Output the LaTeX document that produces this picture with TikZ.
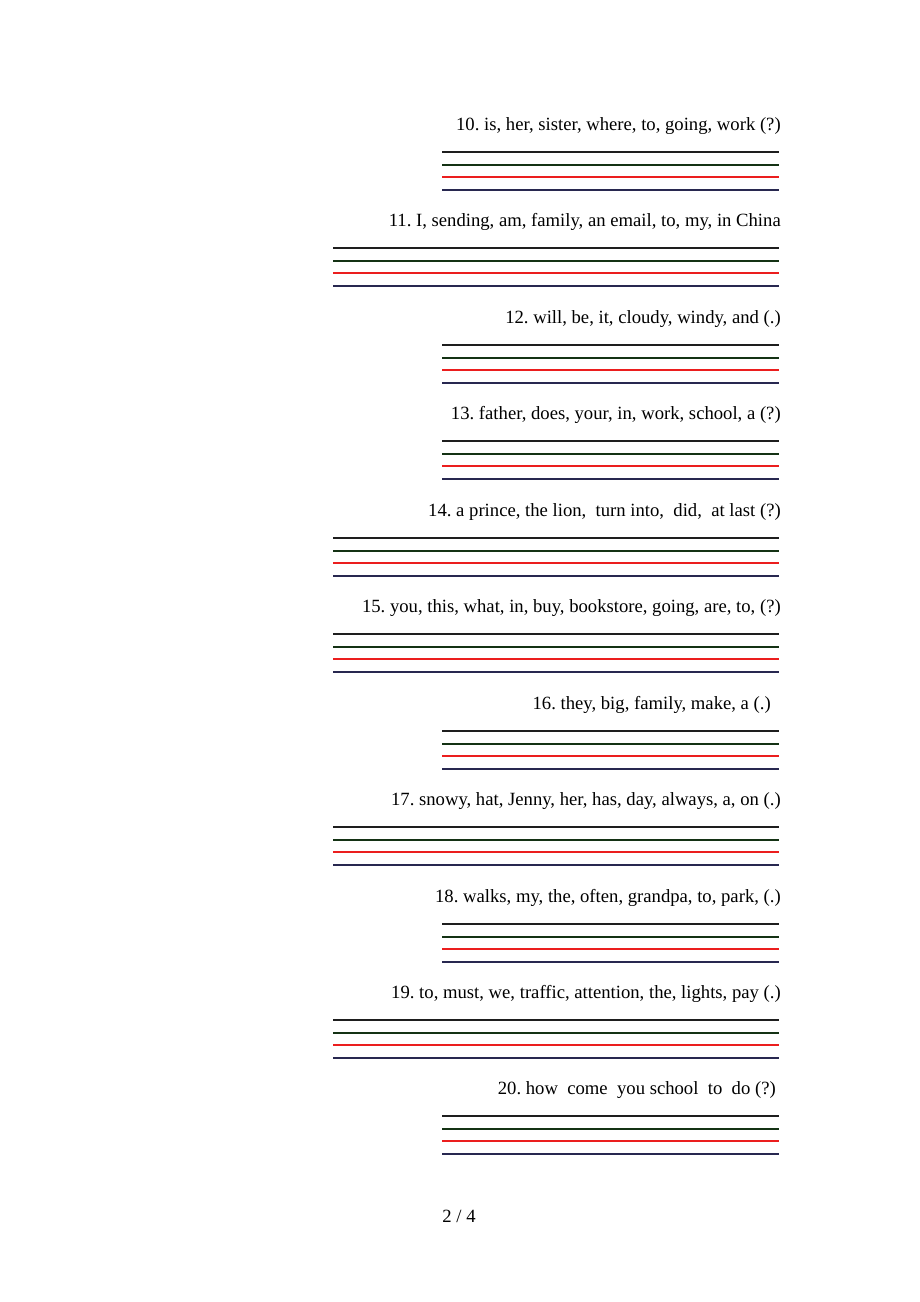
\documentclass[tikz,border=0pt]{standalone}
\usepackage{fontspec}
\setmainfont{Liberation Serif}
\frenchspacing
\definecolor{lineone}{RGB}{30,30,30}
\definecolor{linetwo}{RGB}{20,50,20}
\definecolor{linethree}{RGB}{235,30,30}
\definecolor{linefour}{RGB}{40,40,80}
\begin{document}
\begin{tikzpicture}[x=0.75pt,y=-0.75pt,
  item/.style={anchor=east,inner sep=0pt,font=\fontsize{14}{16}\selectfont},
  rule/.style={line width=0.8pt}]
\useasboundingbox (0,0) rectangle (920,1302);
% questions
\node[item](q10) at (781,126) {10. is, her, sister, where, to, going, work (?)};
\node[item](q11) at (781,222) {11. I, sending, am, family, an email, to, my, in China};
\node[item](q12) at (781,319) {12. will, be, it, cloudy, windy, and (.)};
\node[item](q13) at (781,415) {13. father, does, your, in, work, school, a (?)};
\node[item](q14) at (781,512) {14. a prince, the lion,\ \ turn into,\ \ did,\ \ at last (?)};
\node[item](q15) at (781,608) {15. you, this, what, in, buy, bookstore, going, are, to, (?)};
\node[item](q16) at (771,705) {16. they, big, family, make, a (.)};
\node[item](q17) at (781,801) {17. snowy, hat, Jenny, her, has, day, always, a, on (.)};
\node[item](q18) at (781,898) {18. walks, my, the, often, grandpa, to, park, (.)};
\node[item](q19) at (781,994) {19. to, must, we, traffic, attention, the, lights, pay (.)};
\node[item](q20) at (776,1090) {20. how\ \ come\ \ you school\ \ to\ \ do (?)};
% writing lines
\foreach \y/\left in {124/442,220/333,317/442,413/442,510/333,606/333,703/442,799/333,896/442,992/333,1088/442}{
  \draw[rule,lineone] (\left,\y+28) -- (779,\y+28);
  \draw[rule,linetwo] (\left,\y+41) -- (779,\y+41);
  \draw[rule,linethree] (\left,\y+53) -- (779,\y+53);
  \draw[rule,linefour] (\left,\y+66) -- (779,\y+66);
}
\node[font=\fontsize{14}{16}\selectfont](page) at (459,1216) {2 / 4};
\end{tikzpicture}
\end{document}
